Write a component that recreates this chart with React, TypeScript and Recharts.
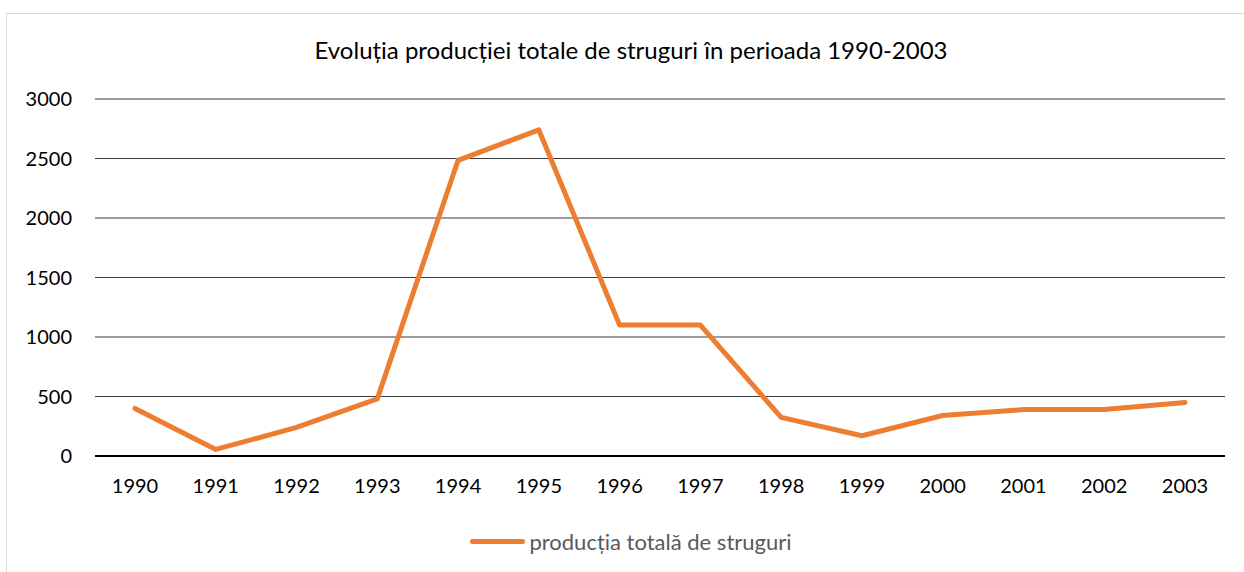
import { CartesianGrid, Legend, Line, LineChart, XAxis, YAxis } from "recharts";

const years = [
	"1990", "1991", "1992", "1993", "1994", "1995", "1996",
	"1997", "1998", "1999", "2000", "2001", "2002", "2003",
];
const productie = [400, 55, 240, 480, 2485, 2740, 1100, 1100, 325, 170, 340, 390, 390, 450];
const yTicks = [0, 500, 1000, 1500, 2000, 2500, 3000];

const seriesName = "producția totală de struguri";
const title = "Evoluția producției totale de struguri în perioada 1990-2003";
const font = "Lato, 'DejaVu Sans', sans-serif";

const data = years.map((year, i) => ({ year, value: productie[i] }));

function LegendBox() {
	return (
		<div
			style={{
				height: 28,
				display: "flex",
				justifyContent: "center",
				alignItems: "center",
				gap: 4,
				fontFamily: font,
				fontSize: 22,
				color: "#595959",
			}}
		>
			<span
				style={{
					display: "inline-block",
					width: 55,
					height: 5,
					borderRadius: 3,
					background: "#ED7D31",
				}}
			/>
			<span>{seriesName}</span>
		</div>
	);
}

export default function App() {
	return (
		<div
			style={{
				position: "absolute",
				left: 0,
				top: 0,
				width: 1244,
				height: 572,
				overflow: "hidden",
				background: "#fff",
			}}
		>
			<div
				style={{
					position: "absolute",
					left: 6,
					top: 13,
					width: 1260,
					height: 580,
					border: "1.5px solid #d9d9d9",
				}}
			/>
			<div
				style={{
					position: "absolute",
					left: 6,
					width: 1250,
					top: 35,
					textAlign: "center",
					fontFamily: font,
					fontSize: 24,
					color: "#000",
				}}
			>
				{title}
			</div>
			<div style={{ position: "absolute", left: 0, top: 0 }}>
				<LineChart
					width={1244}
					height={572}
					data={data}
					margin={{ top: 99, right: 19, bottom: 28, left: 0 }}
				>
					<CartesianGrid horizontal vertical={false} stroke="#3a3a3a" strokeWidth={1} />
					<XAxis
						dataKey="year"
						padding={{ left: 40, right: 40 }}
						axisLine={{ stroke: "#000", strokeWidth: 2 }}
						tickLine={false}
						tickSize={0}
						tickMargin={23}
						height={60}
						tick={{ fill: "#000", fontSize: 20, fontFamily: font }}
					/>
					<YAxis
						width={95}
						domain={[0, 3000]}
						ticks={yTicks}
						axisLine={false}
						tickLine={false}
						tickSize={0}
						tickMargin={23}
						tick={{ fill: "#000", fontSize: 20, fontFamily: font }}
					/>
					<Legend
						verticalAlign="bottom"
						content={() => <LegendBox />}
						wrapperStyle={{ left: 6, width: 1250, bottom: 17 }}
					/>
					<Line
						type="linear"
						dataKey="value"
						name={seriesName}
						stroke="#ED7D31"
						strokeWidth={5}
						strokeLinecap="round"
						strokeLinejoin="round"
						dot={false}
						activeDot={false}
						isAnimationActive={false}
					/>
				</LineChart>
			</div>
		</div>
	);
}
